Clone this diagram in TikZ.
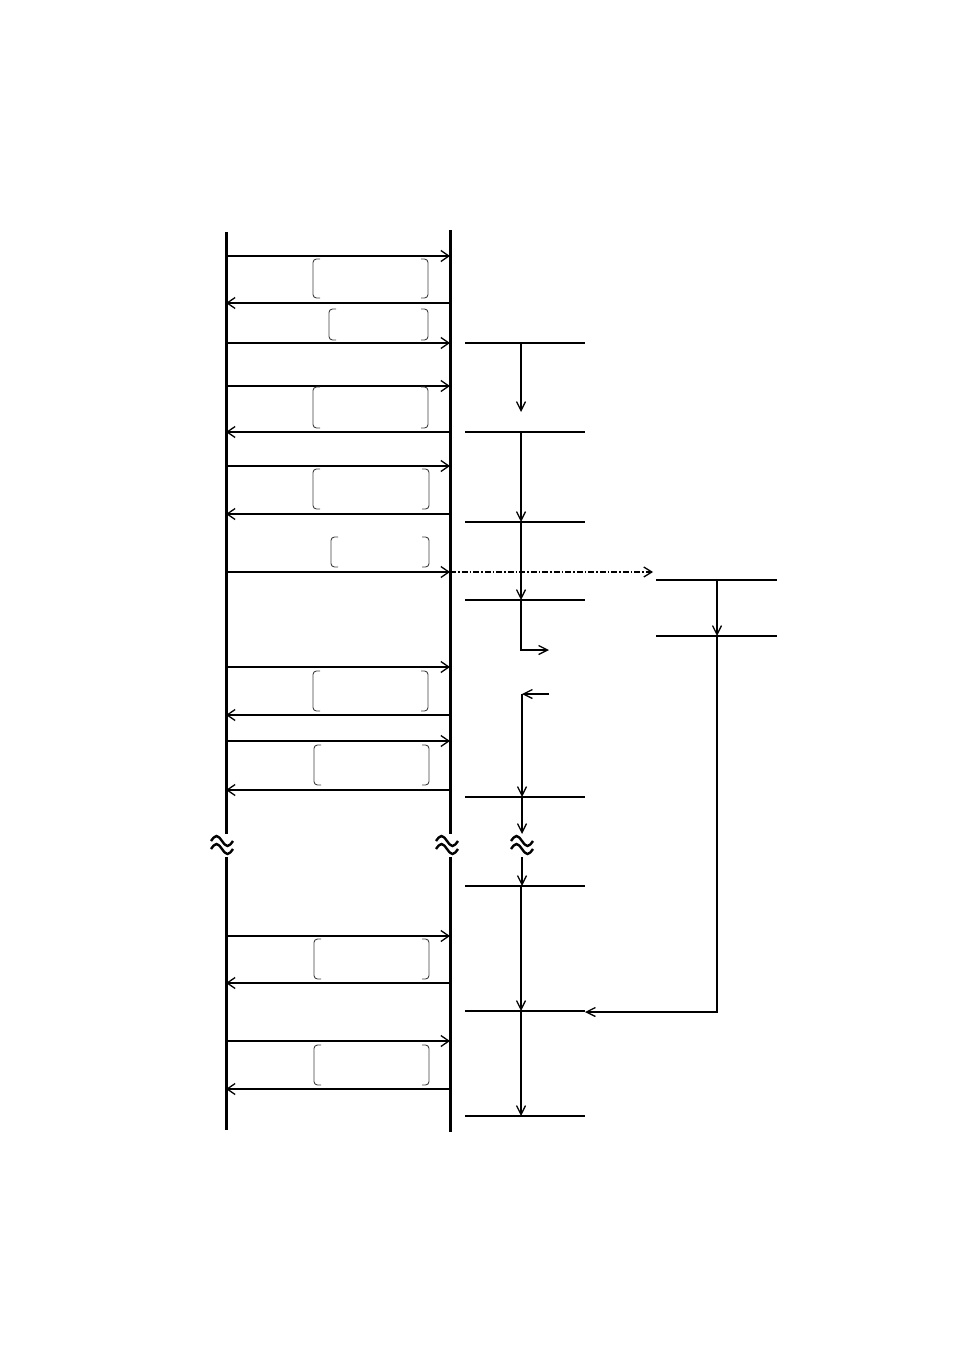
\documentclass[tikz,border=0pt]{standalone}
\usetikzlibrary{arrows.meta}
\newcommand\mybrk[4]{%
  \draw[brk] (#1+7,#2) -- (#1,#2) -- (#1,#4) -- (#1+7,#4);
  \draw[brk] (#3-7,#2) -- (#3,#2) -- (#3,#4) -- (#3-7,#4);}
\newcommand\mywave[2]{%
  \draw[wav] (#1-11,#2-3) sin (#1-5.5,#2-8) cos (#1,#2-3) sin (#1+5.5,#2+2) cos (#1+11,#2-3);
  \draw[wav] (#1-11,#2+5) sin (#1-5.5,#2) cos (#1,#2+5) sin (#1+5.5,#2+10) cos (#1+11,#2+5);}
\begin{document}
\begin{tikzpicture}[x=1pt,y=-1pt,
  life/.style={line width=3pt},
  msg/.style={line width=1.6pt,-{Straight Barb[length=8pt,width=11pt,line width=1.3pt]}},
  brk/.style={line width=0.9pt,black!75,rounded corners=3.5pt},
  tl/.style={line width=1.5pt},
  tarr/.style={line width=1.5pt,-{Straight Barb[length=9pt,width=9pt,line width=1.3pt]}},
  wav/.style={line width=2.4pt},
  dd/.style={line width=1.6pt,dash pattern=on 6pt off 2pt on 1.5pt off 2pt,-{Straight Barb[length=8pt,width=10pt,line width=1.3pt]}}]
\useasboundingbox (0,0) rectangle (954,1351);
% lifelines
\coordinate (Lt) at (226,232); \coordinate (Lb) at (226,1130);
\coordinate (Rt) at (450,230); \coordinate (Rb) at (450,1132);
\draw[life] (Lt) -- (226,834); \draw[life] (226,857) -- (Lb);
\draw[life] (Rt) -- (450,834); \draw[life] (450,857) -- (Rb);
\mywave{222}{844}
\mywave{447}{844}
% messages
\foreach \y in {256,343,386,466,572,667,741,936,1041}
  \draw[msg] (226,\y) -- (450,\y);
\foreach \y in {303,432,514,715,790,983,1089}
  \draw[msg] (450,\y) -- (226,\y);
% brackets
\mybrk{313}{259}{428}{298}
\mybrk{329}{309}{428}{340}
\mybrk{313}{387}{428}{428}
\mybrk{313}{469}{429}{509}
\mybrk{331}{537}{429}{567}
\mybrk{313}{671}{428}{711}
\mybrk{314}{745}{429}{785}
\mybrk{314}{939}{429}{979}
\mybrk{314}{1045}{429}{1085}
% right timeline levels
\foreach \y in {343,432,522,600,797,886,1011,1116}
  \draw[tl] (465,\y) -- (585,\y);
\draw[tarr] (521,343) -- (521,412);
\draw[tarr] (521,432) -- (521,522);
\draw[tarr] (521,522) -- (521,600);
\draw[tarr] (521,600) -- (521,650) -- (549,650);
\draw[tarr] (549,694) -- (522,694);
\draw[tarr] (522,694) -- (522,797);
\draw[tarr] (522,797) -- (522,834);
\mywave{522}{844}
\draw[tarr] (522,857) -- (522,886);
\draw[tarr] (521,886) -- (521,1011);
\draw[tarr] (521,1011) -- (521,1116);
% dash-dot branch
\draw[dd] (450,572) -- (653,572);
\draw[tl] (656,580) -- (777,580);
\draw[tl] (656,636) -- (777,636);
\draw[tarr] (717,580) -- (717,636);
\draw[tarr] (717,636) -- (717,1012) -- (585,1012);
\end{tikzpicture}
\end{document}
